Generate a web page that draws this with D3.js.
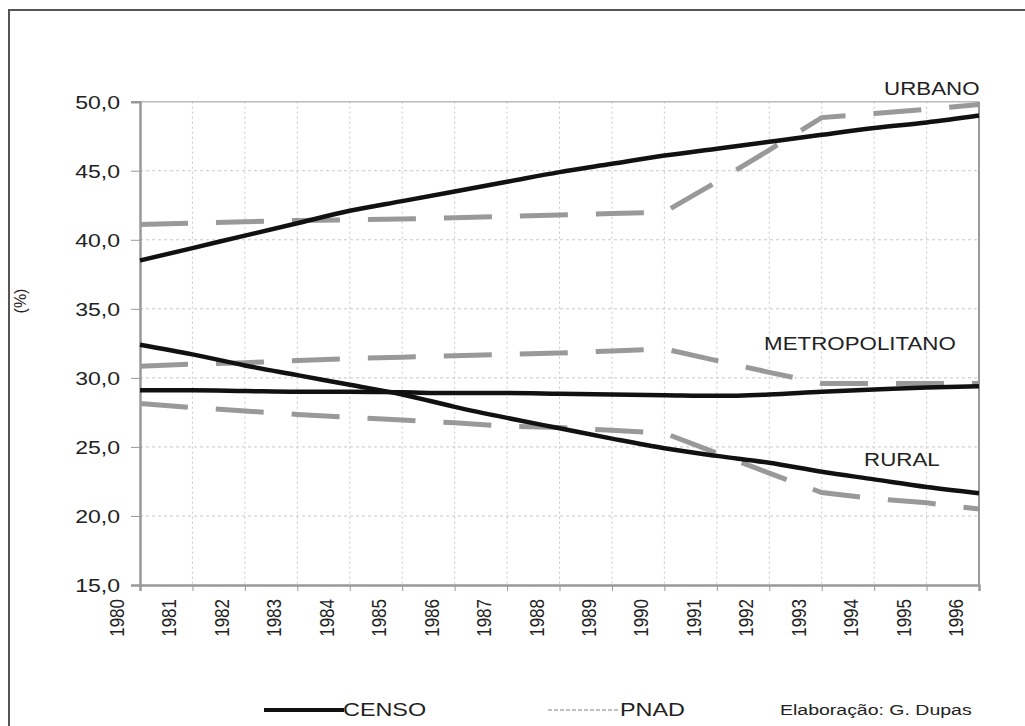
<!DOCTYPE html>
<html><head><meta charset="utf-8">
<script src="https://cdn.jsdelivr.net/npm/d3@7"></script>
<style>body{margin:0;background:#fff}svg{display:block}text{font-family:"Liberation Sans",Arial,sans-serif;fill:#222}</style>
</head><body><svg id="c" width="1025" height="726"></svg>
<script>
const years = [1980,1981,1982,1983,1984,1985,1986,1987,1988,1989,1990,1991,1992,1993,1994,1995,1996];
const censoUrbano = [38.5,39.4,40.3,41.2,42.1,42.8,43.5,44.2,44.9,45.5,46.1,46.6,47.1,47.6,48.1,48.5,49.0];
const pnadUrbano  = [41.1,41.2,41.3,41.4,41.45,41.5,41.6,41.7,41.8,41.9,42.0,44.2,46.5,48.85,49.15,49.45,49.8];
const censoMetro  = [29.1,29.1,29.05,29.0,29.0,28.95,28.9,28.9,28.85,28.8,28.75,28.7,28.8,29.0,29.15,29.3,29.4];
const pnadMetro   = [30.85,31.0,31.1,31.25,31.4,31.5,31.6,31.7,31.8,31.95,32.1,31.25,30.4,29.6,29.6,29.6,29.6];
const censoRural  = [32.4,31.7,30.9,30.2,29.5,28.8,27.9,27.1,26.35,25.6,24.9,24.35,23.85,23.2,22.65,22.1,21.65];
const pnadRural   = [28.15,27.85,27.6,27.35,27.15,26.95,26.75,26.5,26.4,26.2,26.0,24.55,23.1,21.7,21.25,20.95,20.5];
const yTicks = [15,20,25,30,35,40,45,50];
const seriesLabels = [{t:"URBANO",v:50.96,yr:1995.1},{t:"METROPOLITANO",v:32.44,yr:1993.73},{t:"RURAL",v:24.07,yr:1994.53}];
const legendLabels = ["CENSO","PNAD"];
const credit = "Elaboração: G. Dupas";

const svg = d3.select("#c");
const SX = 1.28;
const L=140, R=979, T=101.7, B=585;
const x = d3.scaleLinear().domain([1980,1996]).range([L,R]);
const y = d3.scaleLinear().domain([15,50]).range([B,T]);
const step = x(1981)-x(1980);

// outer frame
svg.append("path").attr("d","M9,726 L9,10 L1025,10").attr("fill","none").attr("stroke","#555").attr("stroke-width",2);

// grid
const g = svg.append("g");
g.selectAll(".vg").data(years.slice(1,-1)).enter().append("line")
 .attr("x1",d=>x(d)).attr("x2",d=>x(d)).attr("y1",T).attr("y2",B)
 .attr("stroke","#c8c8c8").attr("stroke-width",1).attr("stroke-dasharray","2,3");
g.selectAll(".hg").data(yTicks.slice(1,-1)).enter().append("line")
 .attr("x1",L).attr("x2",R).attr("y1",d=>y(d)).attr("y2",d=>y(d))
 .attr("stroke","#c8c8c8").attr("stroke-width",1).attr("stroke-dasharray","3,3");
// plot border
svg.append("line").attr("x1",L).attr("x2",R).attr("y1",T).attr("y2",T).attr("stroke","#bbb").attr("stroke-width",1.5);
svg.append("line").attr("x1",R).attr("x2",R).attr("y1",T).attr("y2",B).attr("stroke","#999").attr("stroke-width",2);

// axes
const ya = svg.append("g").attr("transform",`translate(${L},0)`).call(d3.axisLeft(y).tickValues(yTicks).tickSize(9));
ya.select(".domain").attr("stroke","#999").attr("stroke-width",2.5);
ya.selectAll(".tick line").attr("stroke","#999").attr("stroke-width",1);
ya.selectAll(".tick text").remove();
ya.selectAll(".tick").append("text").attr("transform",`translate(-20,0) scale(${SX},1)`)
 .attr("text-anchor","end").attr("dy","0.35em").style("font-size","18px").attr("fill","#222")
 .text(d=>d3.format(".1f")(d).replace(".",","));

const xa = svg.append("g").attr("transform",`translate(0,${B})`).call(d3.axisBottom(x).tickValues(years).tickSize(6).tickFormat(""));
xa.select(".domain").attr("stroke","#999").attr("stroke-width",2.5);
xa.selectAll(".tick line").attr("stroke","#999").attr("stroke-width",1);
svg.append("g").selectAll("text").data(years).enter().append("text")
 .attr("transform",d=>`translate(${x(d)-step/2+3},599) scale(1.22,1) rotate(-90)`)
 .attr("text-anchor","end").attr("dy","0.35em").style("font-size","17px").text(d=>d);

svg.append("text").attr("transform","translate(20,301) rotate(-90)").attr("text-anchor","middle").attr("dy","0.35em").style("font-size","16px").text("(%)");

// lines
const line = d3.line().x((d,i)=>x(years[i])).y(d=>y(d)).curve(d3.curveMonotoneX);
const lineP = d3.line().x((d,i)=>x(years[i])).y(d=>y(d));
[pnadUrbano,pnadMetro,pnadRural].forEach(s=>{
 svg.append("path").attr("d",lineP(s)).attr("fill","none").attr("stroke","#999").attr("stroke-width",5).attr("stroke-dasharray","48,28");
});
[censoUrbano,censoMetro,censoRural].forEach(s=>{
 svg.append("path").attr("d",line(s)).attr("fill","none").attr("stroke","#111").attr("stroke-width",4.5);
});

// series labels
seriesLabels.forEach(l=>{
 svg.append("text").attr("transform",`translate(${x(l.yr)},${y(l.v)}) scale(1.24,1)`).attr("text-anchor","middle").attr("dy","0.35em").style("font-size","18px").text(l.t);
});

// legend
svg.append("line").attr("x1",264).attr("x2",344).attr("y1",710).attr("y2",710).attr("stroke","#111").attr("stroke-width",4);
svg.append("text").attr("transform","translate(343,710) scale(1.3,1)").attr("dy","0.35em").style("font-size","18px").text(legendLabels[0]);
svg.append("line").attr("x1",548).attr("x2",620).attr("y1",710).attr("y2",710).attr("stroke","#aaa").attr("stroke-width",1.5).attr("stroke-dasharray","4,2");
svg.append("text").attr("transform","translate(620,710) scale(1.3,1)").attr("dy","0.35em").style("font-size","18px").text(legendLabels[1]);
svg.append("text").attr("transform","translate(780,710) scale(1.3,1)").attr("dy","0.35em").style("font-size","15px").text(credit);
</script></body></html>
